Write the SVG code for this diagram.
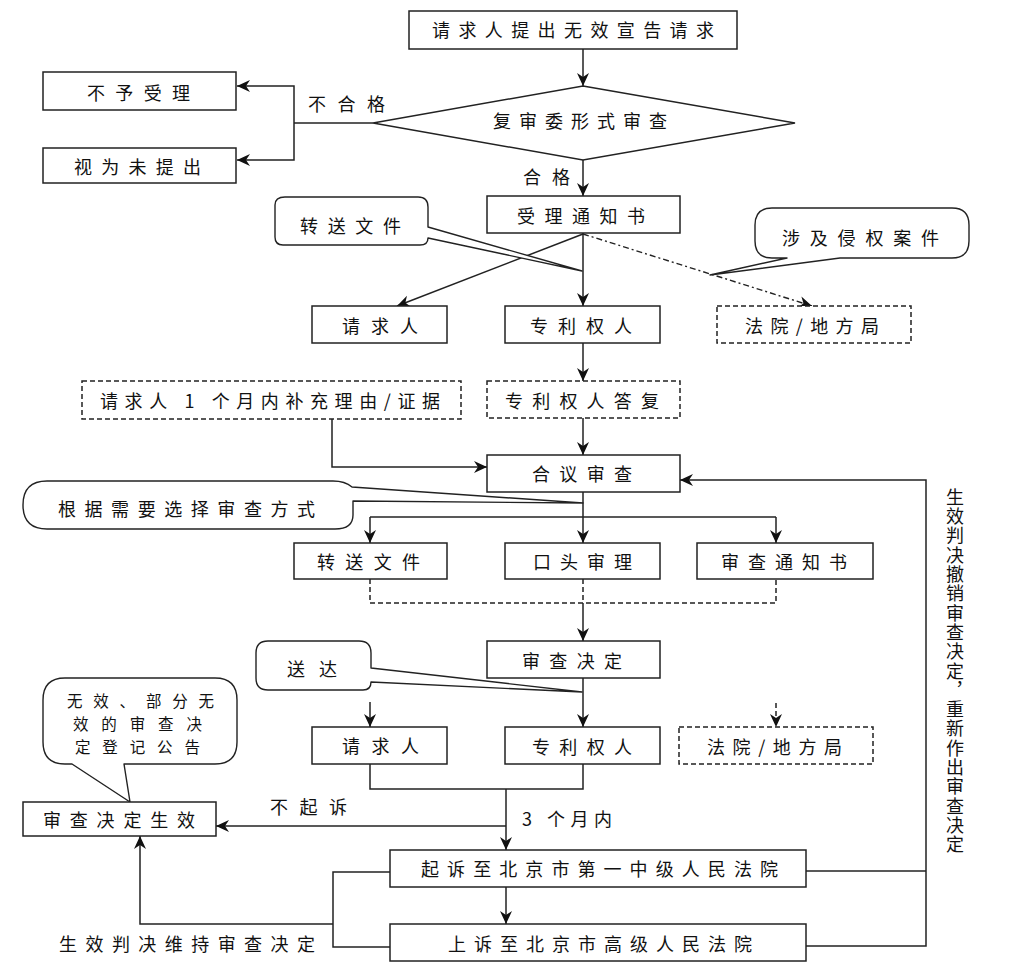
<svg xmlns="http://www.w3.org/2000/svg" width="1017" height="973" viewBox="0 0 1017 973">
<defs>
<style>
.b{fill:#fff;stroke:#222;stroke-width:1.5}
.d{fill:#fff;stroke:#222;stroke-width:1.5;stroke-dasharray:5,3}
.c{fill:#fff;stroke:#222;stroke-width:1.4;stroke-linejoin:round}
.l{fill:none;stroke:#222;stroke-width:1.5}
.ld{fill:none;stroke:#222;stroke-width:1.5;stroke-dasharray:5,3}
.ldd{fill:none;stroke:#222;stroke-width:1.4;stroke-dasharray:6,3,2,3}
.a{marker-end:url(#ah)}
text{font-family:"Noto Sans CJK SC","Liberation Sans",sans-serif;font-size:18px;fill:#111}
.sm{font-size:15.5px}
</style>
<marker id="ah" markerUnits="userSpaceOnUse" markerWidth="14" markerHeight="14" refX="13" refY="7" orient="auto">
<path d="M0,1 L13,7 L0,13 L4,7 Z" fill="#111"/>
</marker>
</defs>
<rect width="1017" height="973" fill="#fff"/>

<g id="connectors">
<path class="l a" d="M583,49 V86"/>
<path class="l" d="M373,123 H294"/>
<path class="l a" d="M294,123 V86 H237"/>
<path class="l a" d="M294,123 V160 H237"/>
<path class="l a" d="M583,160 V196"/>
<path class="l a" d="M583,233 V306"/>
<path class="l a" d="M583,234 L397,306"/>
<path class="ldd a" d="M583,234 L812,306"/>
<path class="l a" d="M583,343 V381"/>
<path class="l a" d="M332,419 V467 H487"/>
<path class="l a" d="M583,418 V455"/>
<path class="l a" d="M583,492 V543"/>
<path class="l" d="M370,517 H776"/>
<path class="l a" d="M370,517 V543"/>
<path class="l a" d="M776,517 V543"/>
<path class="ld" d="M370,579 V603 H776 V579 M583,579 V603"/>
<path class="l a" d="M583,603 V641"/>
<path class="l a" d="M583,678 V727"/>
<path class="l a" d="M370,702 V727"/>
<path class="ld a" d="M776,703 V727"/>
<path class="l" d="M370,764 V789 H583 V764"/>
<path class="l a" d="M506,789 V850"/>
<path class="l a" d="M506,826 H216"/>
<path class="l a" d="M506,887 V924"/>
<path class="l" d="M390,872 H333 V947 H390"/>
<path class="l a" d="M333,924 H140 V836"/>
<path class="l" d="M806,871 H926"/>
<path class="l a" d="M806,946 H926 V480 H680"/>
</g>

<g id="n-request"><rect class="b" x="409" y="11" width="328" height="38"/><text x="432" y="37" textLength="282" lengthAdjust="spacing">请求人提出无效宣告请求</text></g>
<g id="n-formal"><polygon class="b" points="583,86 795,123 583,160 373,123"/><text x="493" y="128" textLength="174" lengthAdjust="spacing">复审委形式审查</text></g>
<g id="n-reject"><rect class="b" x="43" y="72" width="193" height="38"/><text x="87" y="100" textLength="103" lengthAdjust="spacing">不予受理</text></g>
<g id="n-withdrawn"><rect class="b" x="43" y="148" width="193" height="35"/><text x="74" y="174" textLength="127" lengthAdjust="spacing">视为未提出</text></g>
<g id="lbl-fail"><text x="308" y="111" textLength="77" lengthAdjust="spacing">不合格</text></g>
<g id="lbl-pass"><text x="523" y="184" textLength="47" lengthAdjust="spacing">合格</text></g>
<g id="n-accept"><rect class="b" x="487" y="196" width="193" height="37"/><text x="517" y="223" textLength="128" lengthAdjust="spacing">受理通知书</text></g>
<g id="c-transfer1"><path class="c" d="M285,197 H418 Q428,197 428,207 V227 L582,271 L428,238 Q428,245 420,245 H283 Q275,245 275,237 V205 Q275,197 285,197 Z"/><text x="300" y="233" textLength="101" lengthAdjust="spacing">转送文件</text></g>
<g id="c-infringe"><path class="c" d="M772,208 H952 Q969,208 969,225 V241 Q969,258 952,258 H840 L710,275 L787,258 H772 Q755,258 755,241 V225 Q755,208 772,208 Z"/><text x="782" y="245" textLength="157" lengthAdjust="spacing">涉及侵权案件</text></g>
<g id="n-req1"><rect class="b" x="312" y="306" width="135" height="37"/><text x="342" y="333" textLength="76" lengthAdjust="spacing">请求人</text></g>
<g id="n-pat1"><rect class="b" x="505" y="306" width="155" height="37"/><text x="530" y="333" textLength="102" lengthAdjust="spacing">专利权人</text></g>
<g id="n-court1"><rect class="d" x="717" y="306" width="194" height="37"/><text x="745" y="333" textLength="134" lengthAdjust="spacing">法院/地方局</text></g>
<g id="n-supp"><rect class="d" x="82" y="381" width="379" height="38"/><text x="100" y="408" textLength="340" lengthAdjust="spacing">请求人 1 个月内补充理由/证据</text></g>
<g id="n-reply"><rect class="d" x="487" y="381" width="193" height="37"/><text x="505" y="408" textLength="154" lengthAdjust="spacing">专利权人答复</text></g>
<g id="n-panel"><rect class="b" x="487" y="455" width="193" height="37"/><text x="532" y="481" textLength="100" lengthAdjust="spacing">合议审查</text></g>
<g id="c-mode"><path class="c" d="M47,481 H333 Q345,481 352,487 L583,503 L353,501 V515 Q353,529 335,529 H47 Q23,529 23,505 Q23,481 47,481 Z"/><text x="58" y="516" textLength="257" lengthAdjust="spacing">根据需要选择审查方式</text></g>
<g id="n-transfer2"><rect class="b" x="294" y="543" width="153" height="36"/><text x="317" y="569" textLength="103" lengthAdjust="spacing">转送文件</text></g>
<g id="n-oral"><rect class="b" x="505" y="543" width="155" height="36"/><text x="533" y="569" textLength="99" lengthAdjust="spacing">口头审理</text></g>
<g id="n-exnotice"><rect class="b" x="697" y="543" width="176" height="36"/><text x="721" y="569" textLength="126" lengthAdjust="spacing">审查通知书</text></g>
<g id="n-decision"><rect class="b" x="487" y="641" width="173" height="37"/><text x="522" y="668" textLength="100" lengthAdjust="spacing">审查决定</text></g>
<g id="c-deliver"><path class="c" d="M268,641 H359 Q371,641 371,653 V668 L582,692 L371,682 Q371,690 363,690 H268 Q256,690 256,678 V653 Q256,641 268,641 Z"/><text x="287" y="676" textLength="50" lengthAdjust="spacing">送达</text></g>
<g id="n-req2"><rect class="b" x="312" y="727" width="135" height="37"/><text x="342" y="753" textLength="77" lengthAdjust="spacing">请求人</text></g>
<g id="n-pat2"><rect class="b" x="505" y="727" width="155" height="37"/><text x="532" y="754" textLength="100" lengthAdjust="spacing">专利权人</text></g>
<g id="n-court2"><rect class="d" x="679" y="727" width="194" height="37"/><text x="707" y="754" textLength="135" lengthAdjust="spacing">法院/地方局</text></g>
<g id="c-publish"><path class="c" d="M65,678 H215 Q237,678 237,700 V742 Q237,764 215,764 H124 L130,802 L72,764 H65 Q43,764 43,742 V700 Q43,678 65,678 Z"/>
<text class="sm" x="67" y="707" textLength="147" lengthAdjust="spacing">无效、部分无</text>
<text class="sm" x="73" y="730" textLength="129" lengthAdjust="spacing">效的审查决</text>
<text class="sm" x="75" y="753" textLength="125" lengthAdjust="spacing">定登记公告</text></g>
<g id="n-effective"><rect class="b" x="23" y="802" width="193" height="34"/><text x="43" y="827" textLength="152" lengthAdjust="spacing">审查决定生效</text></g>
<g id="lbl-nosue"><text x="270" y="814" textLength="77" lengthAdjust="spacing">不起诉</text></g>
<g id="lbl-3m"><text x="522" y="826" textLength="90" lengthAdjust="spacing">3 个月内</text></g>
<g id="n-sue"><rect class="b" x="390" y="850" width="416" height="37"/><text x="421" y="876" textLength="357" lengthAdjust="spacing">起诉至北京市第一中级人民法院</text></g>
<g id="n-appeal"><rect class="b" x="390" y="924" width="416" height="37"/><text x="448" y="951" textLength="304" lengthAdjust="spacing">上诉至北京市高级人民法院</text></g>
<g id="lbl-uphold"><text x="59" y="951" textLength="256" lengthAdjust="spacing">生效判决维持审查决定</text></g>
<g id="lbl-revoke"><text x="955" y="488" style="writing-mode:vertical-rl" letter-spacing="1.3">生效判决撤销审查决定，重新作出审查决定</text></g>
</svg>
